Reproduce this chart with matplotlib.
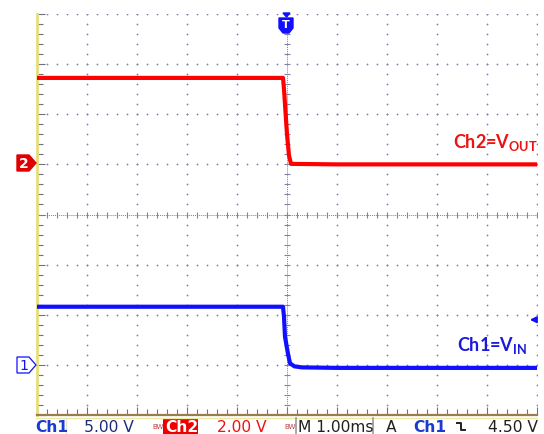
import numpy as np
import matplotlib
matplotlib.use("Agg")
import matplotlib.pyplot as plt
from matplotlib.patches import Polygon, Rectangle

# datos (tiempo en ms, tension en V)
t_ch2 = [-5.0, -0.08, -0.06, -0.04, 0.0, 0.04, 0.08, 1.0, 5.0]
v_ch2 = [3.45, 3.45, 3.0, 2.4, 1.2, 0.35, 0.02, 0.0, 0.0]

t_ch1 = [-5.0, -0.08, -0.06, -0.04, 0.02, 0.06, 0.15, 0.3, 1.0, 5.0]
v_ch1 = [5.8, 5.8, 4.8, 2.8, 1.1, 0.15, -0.15, -0.25, -0.3, -0.3]

ch1_escala = 5.0    # V/div
ch2_escala = 2.0    # V/div
ch1_offset = -3.0   # div
ch2_offset = 1.0    # div
nivel_disparo = 4.5  # V en Ch1

rojo = "#ff0000"
azul = "#1010ff"
gris = "#8080a8"

plt.rcParams["mathtext.fontset"] = "custom"
plt.rcParams["mathtext.bf"] = "Lato:bold"

fig = plt.figure(figsize=(5.44, 4.34), dpi=100)
fig.patch.set_facecolor("white")

W, H = 544, 434
ax = fig.add_axes([37 / W, 19 / H, 500 / W, 401 / H])
ax.set_xlim(-5, 5)
ax.set_ylim(-4, 4)

# reticula de puntos
for xv in range(-4, 6):
    if xv == 0:
        continue
    yy = np.arange(-4, 4.01, 0.2)
    ax.plot(np.full_like(yy, xv), yy, ls="none", marker="o", ms=1.3, color=gris, mew=0)
for yv in range(-3, 5):
    if yv == 0:
        continue
    xx = np.arange(-5, 5.01, 0.2)
    ax.plot(xx, np.full_like(xx, yv), ls="none", marker="o", ms=1.3, color=gris, mew=0)

# ejes centrales con marcas
ax.axhline(0, color=gris, lw=0.7, ls=(0, (1, 1)))
ax.axvline(0, color=gris, lw=0.7, ls=(0, (1, 1)))
xx = np.arange(-5, 5.01, 0.2)
ax.plot(xx, np.zeros_like(xx), ls="none", marker="|", ms=5, mew=0.8, color=gris)
yy = np.arange(-4, 4.01, 0.2)
ax.plot(np.zeros_like(yy), yy, ls="none", marker="_", ms=5, mew=0.8, color=gris)

# trazas
ax.plot(t_ch2, np.array(v_ch2) / ch2_escala + ch2_offset, color=rojo, lw=3.0, zorder=5)
ax.plot(t_ch1, np.array(v_ch1) / ch1_escala + ch1_offset, color=azul, lw=3.0, zorder=5)

# bordes
for s in ["top", "right"]:
    ax.spines[s].set_visible(False)
ax.spines["left"].set_color("#e6de7a")
ax.spines["left"].set_linewidth(2)
ax.spines["bottom"].set_color("#9a7c50")
ax.spines["bottom"].set_linewidth(1.6)
ax.set_xticks(np.arange(-5, 5.01, 1))
ax.set_xticks(np.arange(-5, 5.01, 0.2), minor=True)
ax.set_yticks(np.arange(-4, 4.01, 1))
ax.set_yticks(np.arange(-4, 4.01, 0.2), minor=True)
ax.tick_params(which="both", direction="in", colors="#707080", labelbottom=False, labelleft=False)
ax.tick_params(which="major", length=6, width=0.8)
ax.tick_params(which="minor", length=4, width=0.8)

# capa para marcadores y barra de estado (coordenadas en pixeles)
ov = fig.add_axes([0, 0, 1, 1], zorder=10)
ov.set_xlim(0, W)
ov.set_ylim(H, 0)
ov.axis("off")
ov.patch.set_alpha(0)

# marcador de disparo T
ov.add_patch(Polygon([(279, 18), (293, 18), (293, 28), (289, 33), (283, 33), (279, 28)],
                     closed=True, fc=azul, ec=azul))
ov.add_patch(Polygon([(283, 13), (290, 13), (286.5, 17)], closed=True, fc=azul, ec=azul))
ov.text(286, 25.5, "T", color="white", fontsize=8, fontweight="bold", ha="center", va="center")

# marcadores de canal
ov.add_patch(Polygon([(17, 155), (29, 155), (36, 163), (29, 171), (17, 171)],
                     closed=True, fc="#e00000", ec="#e00000"))
ov.text(24, 163.5, "2", color="white", fontsize=10, fontweight="bold", ha="center", va="center")
ov.add_patch(Polygon([(17, 357), (29, 357), (36, 365), (29, 373), (17, 373)],
                     closed=True, fc="white", ec=azul, lw=0.9))
ov.text(24, 365.5, "1", color=azul, fontsize=10, ha="center", va="center")

# nivel de disparo (flecha derecha)
ax.annotate("", xy=(4.8, nivel_disparo / ch1_escala + ch1_offset),
            xytext=(5.0, nivel_disparo / ch1_escala + ch1_offset),
            arrowprops=dict(arrowstyle="-|>", color=azul, lw=1.4, mutation_scale=9),
            annotation_clip=False)

# etiquetas de las trazas
ov.text(453, 148, r"Ch2=V$_\mathbf{OUT}$", color="#ee1111", fontsize=13,
        fontweight="bold", family="Lato", ha="left", va="baseline")
ov.text(457, 351, r"Ch1=V$_\mathbf{IN}$", color="#1a1ad8", fontsize=13,
        fontweight="bold", family="Lato", ha="left", va="baseline")

# barra de estado inferior
ov.plot([36, 537], [417.5, 417.5], color="#eee8a0", lw=1)
ov.add_patch(Rectangle((163, 418), 35, 16, fc="#ee0000", ec="none"))
ov.plot([296, 296], [418, 434], color="#9a9a9a", lw=1.2)
ov.plot([373, 373], [418, 434], color="#9a9a9a", lw=1.2)
ov.plot([66, 66], [418, 434], color="#e8e8d0", lw=1)

fs = 11.2
yb = 432
ov.text(35, yb, "Ch1", color="#1a3ad0", fontsize=fs, fontweight="bold", ha="left", va="baseline")
ov.text(84, yb, "5.00 V", color="#1c2d7a", fontsize=fs, ha="left", va="baseline")
ov.text(152, yb - 3, "BW", color="#c04040", fontsize=5, ha="left", va="baseline")
ov.text(165, yb, "Ch2", color="white", fontsize=fs, fontweight="bold", ha="left", va="baseline")
ov.text(217, yb, "2.00 V", color="#ee1111", fontsize=fs, ha="left", va="baseline")
ov.text(284, yb - 3, "BW", color="#c04040", fontsize=5, ha="left", va="baseline")
ov.text(298, yb, "M 1.00ms", color="#202020", fontsize=fs, ha="left", va="baseline")
ov.text(386, yb, "A", color="#202020", fontsize=fs, ha="left", va="baseline")
ov.text(413, yb, "Ch1", color="#1a3ad0", fontsize=fs, fontweight="bold", ha="left", va="baseline")
ov.plot([457, 461, 461, 465], [423, 423, 430, 430], color="#202020", lw=1.4)
ov.text(488, yb, "4.50 V", color="#202020", fontsize=fs, ha="left", va="baseline")

fig.savefig("out.png", dpi=100, facecolor="white")
